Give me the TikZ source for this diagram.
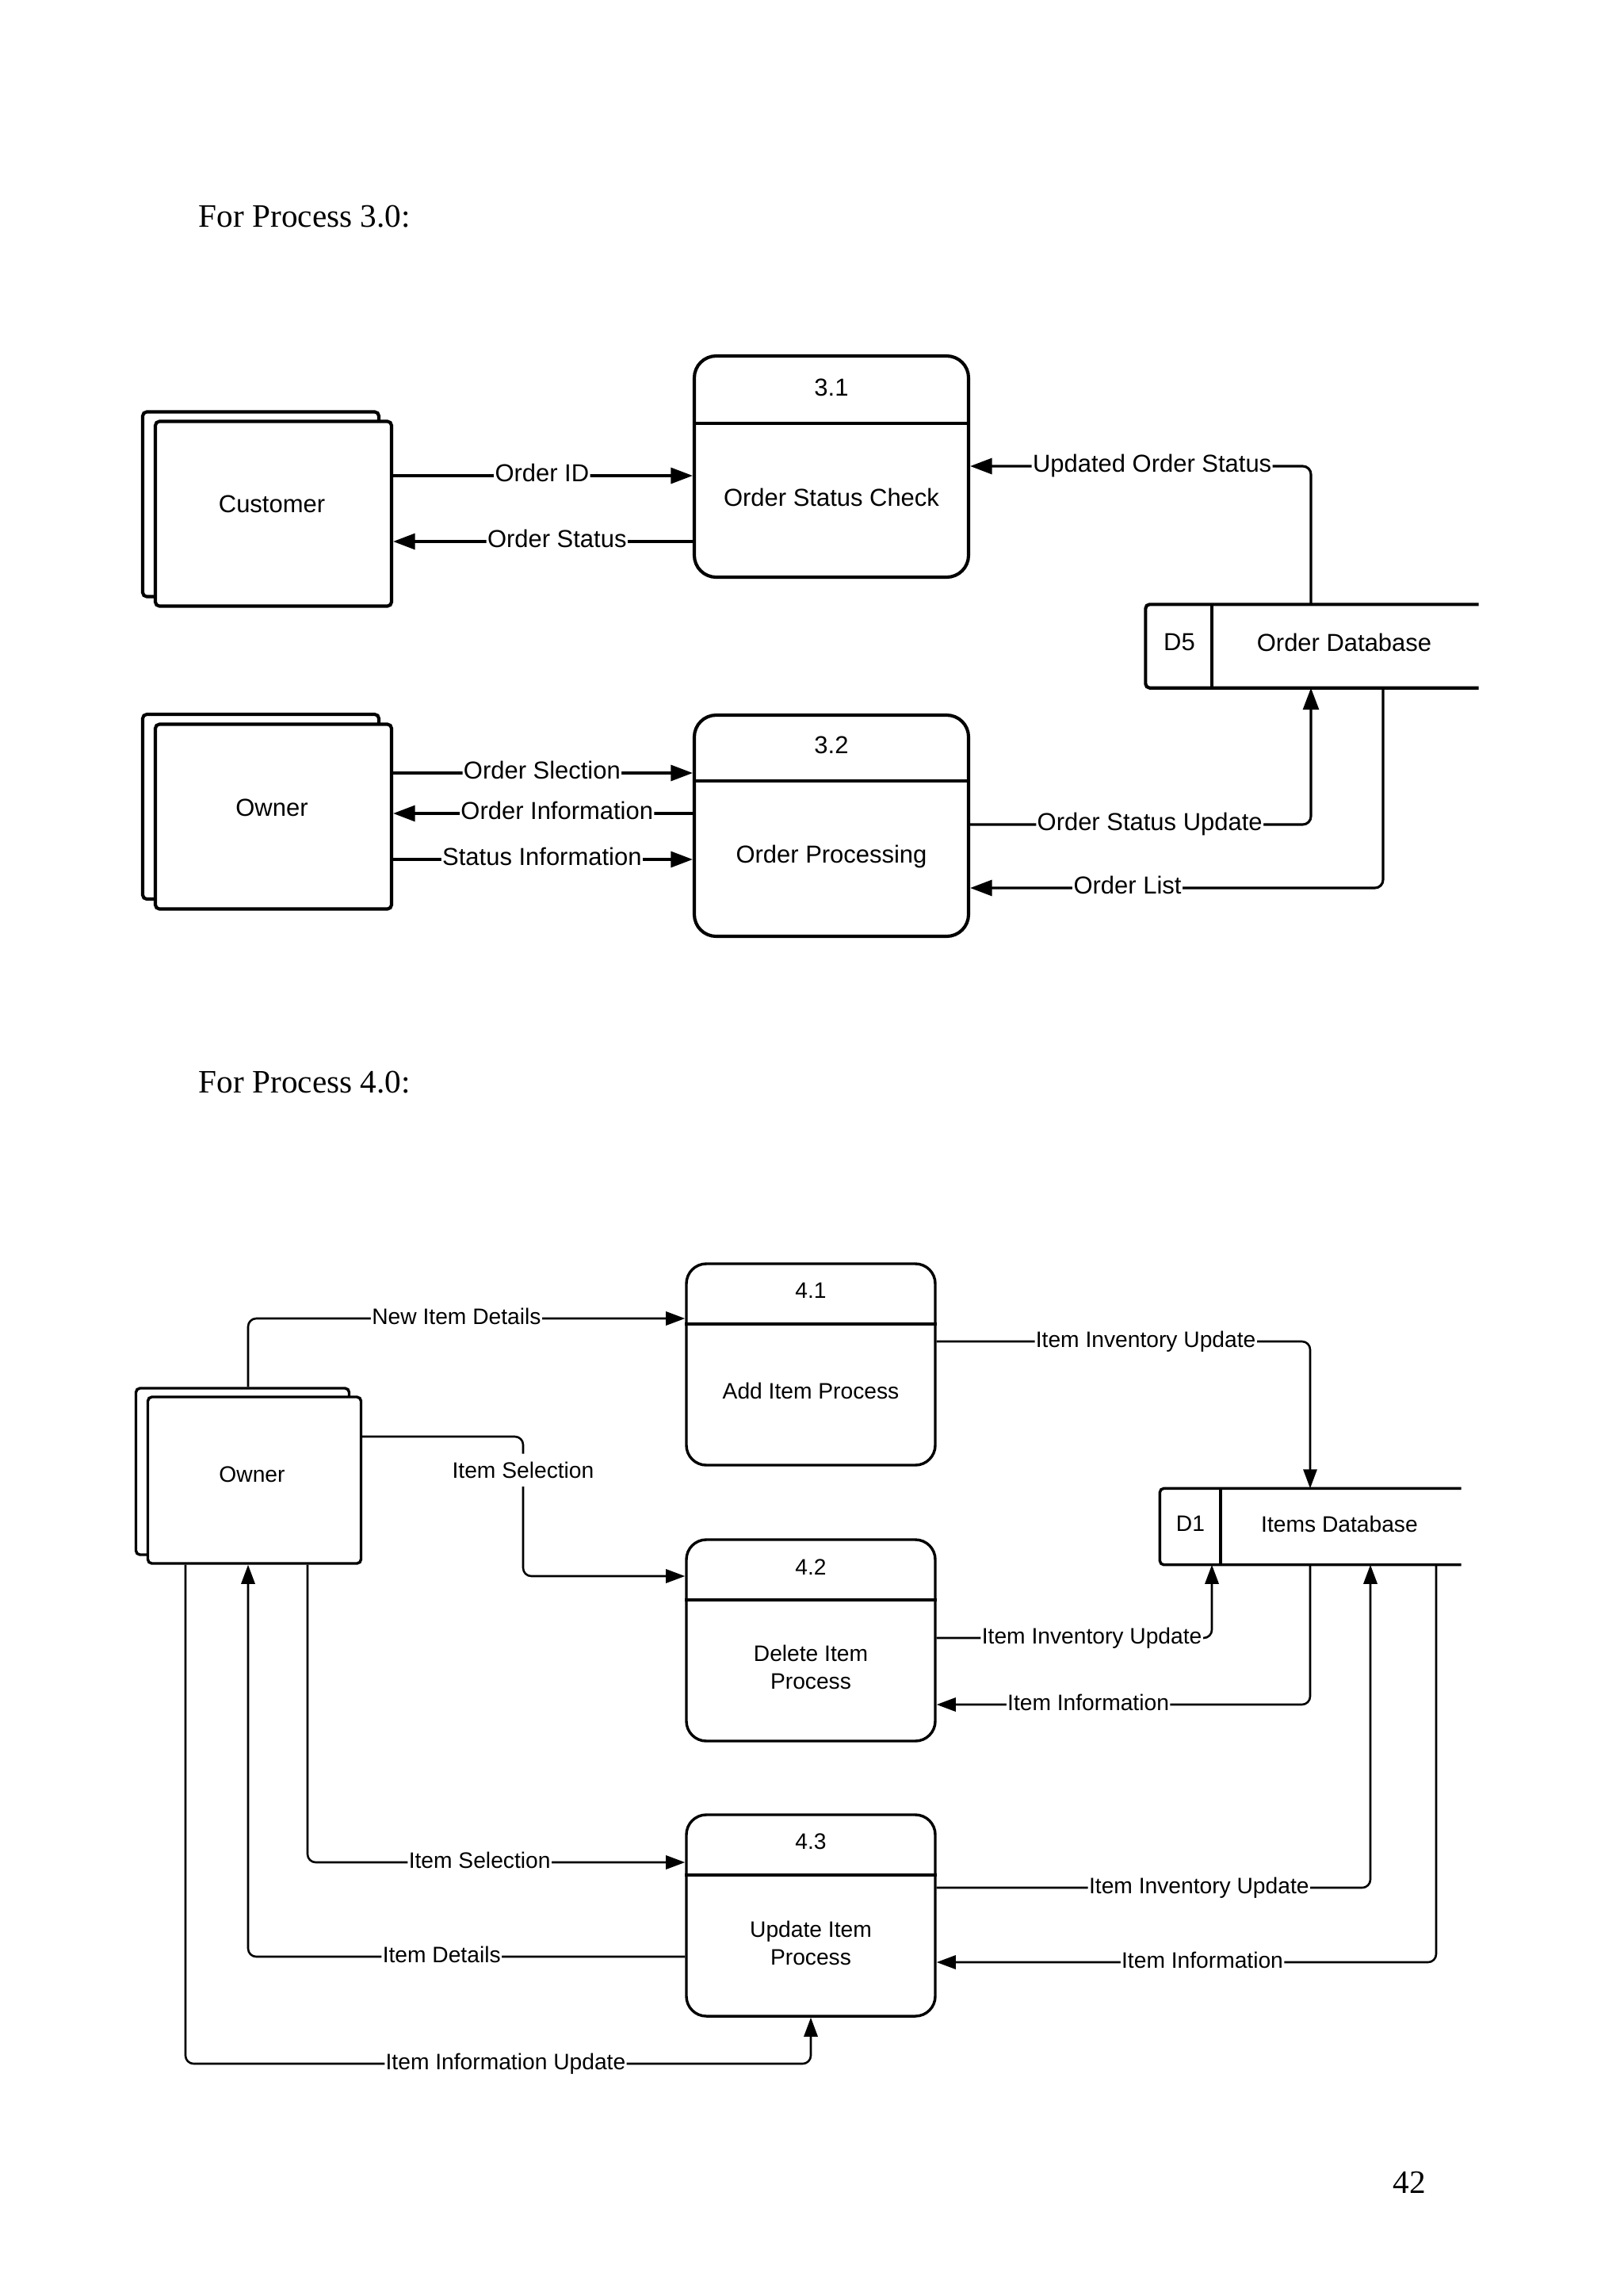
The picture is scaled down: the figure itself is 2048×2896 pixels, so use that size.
\documentclass[tikz,border=0pt]{standalone}
\usepackage{fontspec}
\setmainfont{Liberation Serif}
\newfontfamily\dfdsans{Liberation Sans}
\usetikzlibrary{arrows.meta}
\def\PX{0.29067pt}
\tikzset{
  ttl/.style={font=\fontsize{12}{14}\selectfont, anchor=base west, inner sep=0pt},
  entA/.style={draw, line width=1.2pt, rounded corners=1.5pt, fill=white, minimum width=298*\PX, minimum height=233*\PX, inner sep=0pt},
  procA/.style={draw, line width=1.2pt, rounded corners=8pt, minimum width=346*\PX, minimum height=279*\PX, inner sep=0pt},
  txtA/.style={font=\dfdsans\fontsize{9}{11}\selectfont, inner sep=0pt},
  lblA/.style={font=\dfdsans\fontsize{9}{11}\selectfont, fill=white, inner xsep=0.4pt, inner ysep=1.5pt, anchor=base, yshift=-2.3pt},
  flowA/.style={line width=0.9pt, rounded corners=3pt, -{Triangle[length=8pt,width=5.8pt]}},
  lineA/.style={line width=1.2pt},
  entB/.style={draw, line width=1pt, rounded corners=1.5pt, fill=white, minimum width=269*\PX, minimum height=210*\PX, inner sep=0pt},
  procB/.style={draw, line width=1pt, rounded corners=7.3pt, minimum width=314*\PX, minimum height=254*\PX, inner sep=0pt},
  txtB/.style={font=\dfdsans\fontsize{8.2}{10.2}\selectfont, inner sep=0pt, align=center},
  lblB/.style={font=\dfdsans\fontsize{8.2}{10.2}\selectfont, fill=white, inner xsep=0.4pt, inner ysep=1.3pt, anchor=base, yshift=-2.1pt},
  vlblB/.style={font=\dfdsans\fontsize{8.2}{10.2}\selectfont, fill=white, inner xsep=0.4pt, inner ysep=3pt, anchor=center},
  flowB/.style={line width=0.75pt, rounded corners=3pt, -{Triangle[length=7pt,width=5pt]}},
  lineB/.style={line width=1pt},
}
\begin{document}
\begin{tikzpicture}[x=0.29067pt,y=-0.29067pt]
\useasboundingbox[fill=white] (0,0) rectangle (2048,2896);

% titles and page number
\node[ttl] (t3) at (250,286) {For Process 3.0:};
\node[ttl] (t4) at (250,1378) {For Process 4.0:};
\node[ttl] (pg) at (1757,2766) {42};

% ================= Process 3.0 =================
\node[entA] (custB) at (329,636) {};
\node[entA] (cust) at (345,648) {};
\node[txtA] (custT) at (343,636) {Customer};

\node[entA] (ownB) at (329,1017.5) {};
\node[entA] (own) at (345,1030) {};
\node[txtA] (ownT) at (343,1019) {Owner};

\node[procA] (p31) at (1049,588.5) {};
\draw[lineA] (p31.west |- 0,534) -- (p31.east |- 0,534);
\node[txtA] (p31n) at (1049,489) {3.1};
\node[txtA] (p31t) at (1049,627) {Order Status Check};

\node[procA] (p32) at (1049,1041.5) {};
\draw[lineA] (p32.west |- 0,985) -- (p32.east |- 0,985);
\node[txtA] (p32n) at (1049,940) {3.2};
\node[txtA] (p32t) at (1049,1080) {Order Processing};

\node[inner sep=0pt, minimum width=419*\PX, minimum height=104*\PX] (d5) at (1655.5,815) {};
\draw[lineA, rounded corners=1.5pt] (d5.north east) -- (d5.north west) -- (d5.south west) -- (d5.south east);
\draw[lineA] (1529,0 |- d5.north) -- (1529,0 |- d5.south);
\node[txtA] (d5n) at (1488,810) {D5};
\node[txtA] (d5t) at (1696,810) {Order Database};

\draw[flowA] (cust.east |- 0,600) -- node[lblA,pos=0.497]{Order ID} (p31.west |- 0,600);
\draw[flowA] (p31.west |- 0,683) -- node[lblA,pos=0.453]{Order Status} (cust.east |- 0,683);
\draw[flowA] (1654,0 |- d5.north) -- (1654,588) -- node[lblA,pos=0.466]{Updated Order Status} (p31.east |- 0,588);

\draw[flowA] (own.east |- 0,975) -- node[lblA,pos=0.497]{Order Slection} (p32.west |- 0,975);
\draw[flowA] (p32.west |- 0,1026) -- node[lblA,pos=0.453]{Order Information} (own.east |- 0,1026);
\draw[flowA] (own.east |- 0,1084) -- node[lblA,pos=0.497]{Status Information} (p32.west |- 0,1084);
\draw[flowA] (p32.east |- 0,1040) -- node[lblA,pos=0.527]{Order Status Update} (1654,1040) -- (1654,0 |- d5.south);
\draw[flowA] (1745,0 |- d5.south) -- (1745,1120) -- node[lblA,pos=0.619]{Order List} (p32.east |- 0,1120);

% ================= Process 4.0 =================
\node[entB] (own2B) at (306,1856) {};
\node[entB] (own2) at (321,1867) {};
\node[txtB] (own2T) at (318,1860) {Owner};

\node[procB] (p41) at (1023,1721) {};
\draw[lineB] (p41.west |- 0,1670) -- (p41.east |- 0,1670);
\node[txtB] (p41n) at (1023,1628) {4.1};
\node[txtB] (p41t) at (1023,1754) {Add Item Process};

\node[procB] (p42) at (1023,2069) {};
\draw[lineB] (p42.west |- 0,2018) -- (p42.east |- 0,2018);
\node[txtB] (p42n) at (1023,1977) {4.2};
\node[txtB] (p42t) at (1023,2103) {Delete Item\\Process};

\node[procB] (p43) at (1023,2416) {};
\draw[lineB] (p43.west |- 0,2365) -- (p43.east |- 0,2365);
\node[txtB] (p43n) at (1023,2323) {4.3};
\node[txtB] (p43t) at (1023,2451) {Update Item\\Process};

\node[inner sep=0pt, minimum width=379*\PX, minimum height=95*\PX] (d1) at (1653.5,1925.5) {};
\draw[lineB, rounded corners=1.5pt] (d1.north east) -- (d1.north west) -- (d1.south west) -- (d1.south east);
\draw[lineB] (1540,0 |- d1.north) -- (1540,0 |- d1.south);
\node[txtB] (d1n) at (1502,1922) {D1};
\node[txtB] (d1t) at (1690,1922) {Items Database};

% owner -> processes
\draw[flowB] (313,0 |- own2B.north) -- (313,1663) -- node[lblB,pos=0.477]{New Item Details} (p41.west |- 0,1663);
\draw[flowB] (own2.east |- 0,1812) -- (660,1812) -- node[vlblB,pos=0.24]{Item Selection} (660,1988) -- (p42.west |- 0,1988);
\draw[flowB] (388,0 |- own2.south) -- (388,2349) -- node[lblB,pos=0.456]{Item Selection} (p43.west |- 0,2349);
\draw[flowB] (p43.west |- 0,2468) -- node[lblB,pos=0.557]{Item Details} (313,2468) -- (313,0 |- own2.south);
\draw[flowB] (234,0 |- own2.south) -- (234,2603) -- node[lblB,pos=0.512]{Item Information Update} (1023,2603) -- (p43.south);

% processes <-> D1
\draw[flowB] (p41.east |- 0,1692) -- node[lblB,pos=0.56]{Item Inventory Update} (1653,1692) -- (1653,0 |- d1.north);
\draw[flowB] (p42.east |- 0,2066) -- node[lblB,pos=0.564]{Item Inventory Update} (1529,2066) -- (1529,0 |- d1.south);
\draw[flowB] (1653,0 |- d1.south) -- (1653,2150) -- node[lblB,pos=0.594]{Item Information} (p42.east |- 0,2150);
\draw[flowB] (p43.east |- 0,2381) -- node[lblB,pos=0.605]{Item Inventory Update} (1729,2381) -- (1729,0 |- d1.south);
\draw[flowB] (1812,0 |- d1.south) -- (1812,2475) -- node[lblB,pos=0.468]{Item Information} (p43.east |- 0,2475);
\end{tikzpicture}
\end{document}
